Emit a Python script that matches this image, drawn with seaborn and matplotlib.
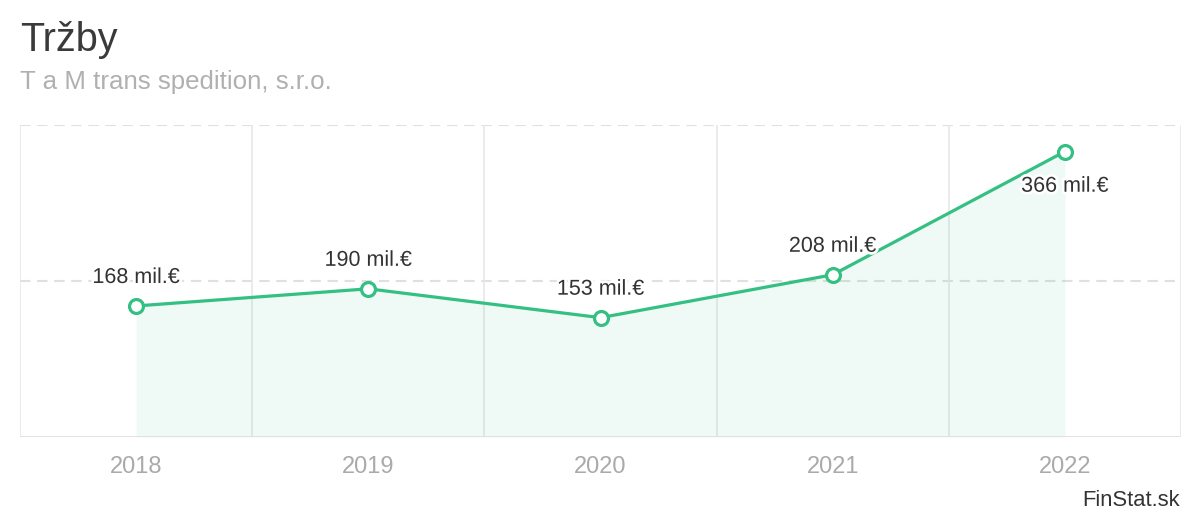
import numpy as np
import pandas as pd
import matplotlib.pyplot as plt
import matplotlib.patheffects as pe
import seaborn as sns

# Tržby (mil. €) podľa roku
years = ["2018", "2019", "2020", "2021", "2022"]
revenue = [168, 190, 153, 208, 366]
labels = ["168 mil.€", "190 mil.€", "153 mil.€", "208 mil.€", "366 mil.€"]
y_ticks = [0, 200, 400]

sns.set_theme(style="white")
plt.rcParams["font.family"] = ["Liberation Sans", "DejaVu Sans"]

green = "#34bf83"
grid_col = "#e6e6e6"

df = pd.DataFrame({"year": years, "revenue": revenue})
df["pos"] = np.arange(len(df))

fig = plt.figure(figsize=(12, 5.2), dpi=100)
ax = fig.add_axes([20 / 1200, 83 / 520, 1161 / 1200, 312 / 520])

# area under the line
ax.fill_between(df["pos"], 0, df["revenue"], color=green, alpha=0.08, lw=0, zorder=1)

sns.lineplot(data=df, x="pos", y="revenue", color=green, lw=2.3, marker="o",
             markersize=10, markerfacecolor="white", markeredgecolor=green,
             markeredgewidth=2.3, ax=ax, zorder=4)

ax.set_xlim(-0.5, len(years) - 0.5)
ax.set_ylim(y_ticks[0], y_ticks[-1])

# grid: dashed horizontals, solid band separators
for v in y_ticks[1:]:
    ax.axhline(v, color="#e0e0e0", lw=1.5, ls=(0, (5, 3.2)), zorder=0)
for b in np.arange(len(years) + 1) - 0.5:
    ax.axvline(b, color=grid_col, lw=1.1, zorder=0)
ax.axhline(0, color="#e0e0e0", lw=2, zorder=2)

for s in ax.spines.values():
    s.set_visible(False)

ax.set_xticks(df["pos"])
ax.set_xticklabels(years)
ax.set_yticks([])
ax.tick_params(axis="x", length=0, pad=14, labelsize=17, labelcolor="#aaaaaa")
ax.set_xlabel("")
ax.set_ylabel("")

# value labels
top = max(revenue)
for x, v, t in zip(df["pos"], revenue, labels):
    dy = -25 if v == top else 20.5
    ax.annotate(t, (x, v), xytext=(0, dy), textcoords="offset points",
                ha="center", va="center", fontsize=15.5, color="#333333", zorder=5,
                path_effects=[pe.withStroke(linewidth=4, foreground="white")])

fig.text(20 / 1200, 1 - 40 / 520, "Tržby", fontsize=28.5, color="#3a3a3a",
         ha="left", va="center")
fig.text(20 / 1200, 1 - 82 / 520, "T a M trans spedition, s.r.o.", fontsize=18.6,
         color="#b0b0b0", ha="left", va="center")
fig.text(1180 / 1200, 1 - 501 / 520, "FinStat.sk", fontsize=15.8, color="#333333",
         ha="right", va="center")

fig.savefig("out.png", dpi=100)
